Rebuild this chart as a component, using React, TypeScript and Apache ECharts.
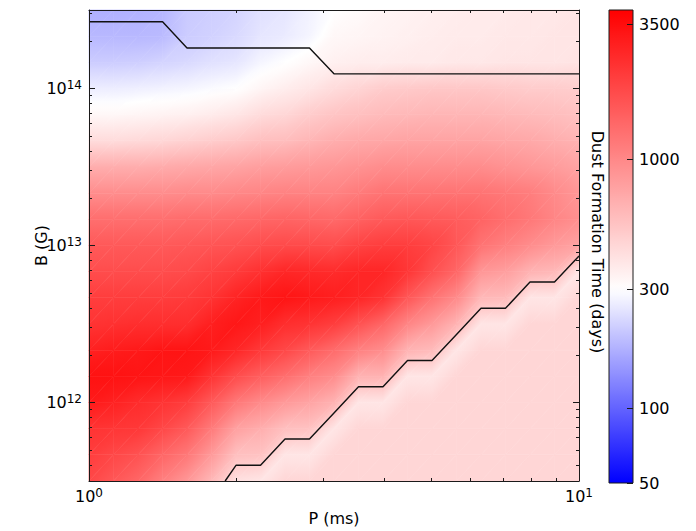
import React, { useEffect, useRef } from 'react';
import * as echarts from 'echarts';

// Grid of spin period P (ms) and magnetic field B (G)
const P_VALUES = [1.0, 1.122, 1.259, 1.413, 1.585, 1.778, 1.995, 2.239, 2.512, 2.818, 3.162, 3.548, 3.981, 4.467, 5.012, 5.623, 6.31, 7.079, 7.943, 8.913, 10.0];
const B_VALUES = [3.162e11, 4.642e11, 6.813e11, 1e12, 1.468e12, 2.154e12, 3.162e12, 4.642e12, 6.813e12, 1e13, 1.468e13, 2.154e13, 3.162e13, 4.642e13, 6.813e13, 1e14, 1.468e14, 2.154e14, 3.162e14];

// Dust formation time (days): one row per B value (bottom to top), one column per P value
const DUST_TIME_B0 = [1937, 1658, 1420, 1095, 868, 620, 409, 389, 454, 454, 454, 454, 454, 454, 454, 454, 454, 454, 454, 454, 454];
const DUST_TIME_B1 = [2148, 1937, 1746, 1420, 1184, 845, 573, 559, 389, 389, 454, 454, 454, 454, 454, 454, 454, 454, 454, 454, 454];
const DUST_TIME_B2 = [2383, 2322, 2263, 1937, 1616, 1154, 782, 687, 573, 559, 389, 454, 454, 454, 454, 454, 454, 454, 454, 454, 454];
const DUST_TIME_B3 = [3088, 2857, 2576, 2383, 2148, 1616, 1184, 988, 845, 762, 653, 389, 389, 454, 454, 454, 454, 454, 454, 454, 454];
const DUST_TIME_B4 = [3337, 3337, 3252, 3169, 3088, 2383, 1839, 1534, 1313, 1095, 962, 653, 653, 389, 389, 454, 454, 454, 454, 454, 454];
const DUST_TIME_B5 = [2857, 3009, 3088, 3252, 3252, 3088, 2712, 2263, 1937, 1616, 1348, 1095, 962, 653, 604, 389, 454, 454, 454, 454, 454];
const DUST_TIME_B6 = [2383, 2446, 2510, 2510, 2510, 2932, 3169, 2932, 2510, 2383, 2148, 1746, 1420, 1040, 845, 653, 389, 389, 454, 454, 454];
const DUST_TIME_B7 = [2148, 2148, 2148, 2148, 2205, 2383, 2784, 3088, 3252, 3088, 2932, 2712, 2383, 1658, 1247, 988, 620, 604, 389, 389, 454];
const DUST_TIME_B8 = [1839, 1839, 1839, 1839, 1887, 2040, 2205, 2446, 2712, 2643, 2576, 2712, 2712, 2322, 1792, 1420, 868, 803, 653, 620, 389];
const DUST_TIME_B9 = [1616, 1616, 1616, 1616, 1658, 1702, 1746, 1839, 1887, 1887, 1839, 2040, 2148, 2148, 1988, 1658, 1247, 1095, 962, 845, 762];
const DUST_TIME_B10 = [1313, 1313, 1313, 1313, 1348, 1348, 1383, 1420, 1457, 1420, 1383, 1495, 1616, 1658, 1616, 1574, 1457, 1313, 1184, 1040, 938];
const DUST_TIME_B11 = [962, 962, 962, 962, 988, 988, 1014, 1040, 1067, 1067, 1067, 1154, 1247, 1247, 1247, 1247, 1247, 1184, 1124, 988, 868];
const DUST_TIME_B12 = [687, 687, 687, 705, 724, 743, 762, 803, 824, 845, 868, 914, 962, 962, 962, 962, 962, 914, 868, 824, 762];
const DUST_TIME_B13 = [431, 431, 443, 454, 478, 504, 530, 573, 588, 636, 687, 724, 743, 762, 762, 762, 762, 743, 724, 687, 653];
const DUST_TIME_B14 = [324, 324, 333, 341, 350, 369, 389, 431, 454, 504, 544, 573, 604, 620, 636, 636, 636, 620, 604, 588, 559];
const DUST_TIME_B15 = [265, 265, 269, 274, 279, 290, 300, 333, 360, 389, 431, 466, 504, 517, 530, 530, 530, 517, 504, 504, 491];
const DUST_TIME_B16 = [210, 210, 213, 221, 229, 242, 251, 279, 300, 324, 350, 360, 360, 369, 369, 379, 379, 389, 389, 389, 399];
const DUST_TIME_B17 = [182, 182, 182, 185, 210, 217, 229, 251, 260, 279, 324, 333, 341, 350, 360, 369, 369, 379, 379, 389, 389];
const DUST_TIME_B18 = [172, 172, 175, 179, 206, 213, 221, 242, 251, 274, 300, 313, 333, 341, 350, 360, 369, 369, 379, 379, 389];

const DUST_TIME = [
  DUST_TIME_B0, DUST_TIME_B1, DUST_TIME_B2, DUST_TIME_B3, DUST_TIME_B4, DUST_TIME_B5, DUST_TIME_B6,
  DUST_TIME_B7, DUST_TIME_B8, DUST_TIME_B9, DUST_TIME_B10, DUST_TIME_B11, DUST_TIME_B12, DUST_TIME_B13,
  DUST_TIME_B14, DUST_TIME_B15, DUST_TIME_B16, DUST_TIME_B17, DUST_TIME_B18,
];

// Contour lines
const UPPER_CONTOUR_P = [1.0, 1.413, 1.585, 2.818, 3.162, 10.0];
const UPPER_CONTOUR_B = [2.66e14, 2.66e14, 1.81e14, 1.81e14, 1.24e14, 1.24e14];
const LOWER_CONTOUR_P = [1.896, 1.995, 2.239, 2.512, 2.818, 3.162, 3.548, 3.981, 4.467, 5.012, 5.623, 6.31, 7.079, 7.943, 8.913, 10.0];
const LOWER_CONTOUR_B = [3.162e11, 3.98e11, 3.98e11, 5.85e11, 5.85e11, 8.57e11, 1.26e12, 1.26e12, 1.85e12, 1.85e12, 2.71e12, 3.98e12, 3.98e12, 5.85e12, 5.85e12, 8.57e12];

// Axes
const X_RANGE = [1, 10];
const Y_RANGE = [3.162e11, 3.162e14];
const X_MAJOR_TICKS = [1, 10];
const X_MINOR_TICKS = [2, 3, 4, 5, 6, 7, 8, 9];
const Y_MAJOR_TICKS = [1e12, 1e13, 1e14];
const Y_MINOR_TICKS = [
  4e11, 5e11, 6e11, 7e11, 8e11, 9e11,
  2e12, 3e12, 4e12, 5e12, 6e12, 7e12, 8e12, 9e12,
  2e13, 3e13, 4e13, 5e13, 6e13, 7e13, 8e13, 9e13,
  2e14, 3e14,
];
const CBAR_TICKS = [50, 100, 300, 1000, 3500];
const CBAR_MIN = 50;
const CBAR_WHITE = 300;
const CBAR_MAX = 4000;

const FONT = 'DejaVu Sans';
const LINE = '#1a1a1a';

const L_MIN = Math.log10(CBAR_MIN);
const L_WHITE = Math.log10(CBAR_WHITE);
const L_MAX = Math.log10(CBAR_MAX);

function cmap(lv: number): string {
  if (lv >= L_WHITE) {
    const s = Math.max(0, Math.min(1, (lv - L_WHITE) / (L_MAX - L_WHITE)));
    const g = Math.round(255 * (1 - s));
    return `rgb(255,${g},${g})`;
  }
  const s = Math.max(0, Math.min(1, (L_WHITE - lv) / (L_WHITE - L_MIN)));
  const g = Math.round(255 * (1 - s));
  return `rgb(${g},${g},255)`;
}

type V = { x: number; y: number; f: number };

function triFill(a: V, b: V, c: V): any {
  const fmin = Math.min(a.f, b.f, c.f);
  const fmax = Math.max(a.f, b.f, c.f);
  if (fmax - fmin < 1e-6) return cmap(a.f);
  const e1x = b.x - a.x, e1y = b.y - a.y, e2x = c.x - a.x, e2y = c.y - a.y;
  const d1 = b.f - a.f, d2 = c.f - a.f;
  const det = e1x * e2y - e1y * e2x;
  if (Math.abs(det) < 1e-9) return cmap(a.f);
  const gx = (d1 * e2y - d2 * e1y) / det;
  const gy = (d2 * e1x - d1 * e2x) / det;
  const g2 = gx * gx + gy * gy;
  if (g2 < 1e-14) return cmap(a.f);
  const sx = a.x + (gx * (fmin - a.f)) / g2;
  const sy = a.y + (gy * (fmin - a.f)) / g2;
  const ex = a.x + (gx * (fmax - a.f)) / g2;
  const ey = a.y + (gy * (fmax - a.f)) / g2;
  const stops = [];
  const N = 4;
  for (let i = 0; i <= N; i++) {
    const t = i / N;
    stops.push({ offset: t, color: cmap(fmin + t * (fmax - fmin)) });
  }
  return new echarts.graphic.LinearGradient(sx, sy, ex, ey, stops, true);
}

const cells: number[][] = [];
for (let k = 0; k < B_VALUES.length - 1; k++) {
  for (let j = 0; j < P_VALUES.length - 1; j++) cells.push([j, k]);
}

const rich = {
  b: { fontSize: 16, fontFamily: FONT, color: '#000' },
  s: { fontSize: 12, fontFamily: FONT, color: '#000', padding: [0, 0, 7, 0] },
};

function xAxisDef(position: 'top' | 'bottom', major: boolean, labels: boolean) {
  const ticks = (major ? X_MAJOR_TICKS : X_MINOR_TICKS).map(Math.log10);
  const def: any = {
    gridIndex: 0,
    type: 'value',
    min: Math.log10(X_RANGE[0]),
    max: Math.log10(X_RANGE[1]),
    position,
    z: 10,
    axisLine: { show: major, onZero: false, lineStyle: { color: LINE, width: 1 } },
    axisTick: { show: true, inside: true, length: major ? 6 : 3, customValues: ticks, lineStyle: { color: LINE, width: 1 } },
    axisLabel: labels
      ? { show: true, customValues: X_MAJOR_TICKS.map(Math.log10), margin: 6, formatter: (v: number) => `{b|10}{s|${Math.round(v)}}`, rich }
      : { show: false },
    splitLine: { show: false },
  };
  if (labels) {
    def.name = 'P (ms)';
    def.nameLocation = 'middle';
    def.nameGap = 29;
    def.nameMoveOverlap = false;
    def.nameTextStyle = { fontSize: 16, fontFamily: FONT, color: '#000' };
  }
  return def;
}

function yAxisDef(position: 'left' | 'right', major: boolean, labels: boolean) {
  const ticks = (major ? Y_MAJOR_TICKS : Y_MINOR_TICKS).map(Math.log10);
  const def: any = {
    gridIndex: 0,
    type: 'value',
    min: Math.log10(Y_RANGE[0]),
    max: Math.log10(Y_RANGE[1]),
    position,
    z: 10,
    axisLine: { show: major, onZero: false, lineStyle: { color: LINE, width: 1 } },
    axisTick: { show: true, inside: true, length: major ? 6 : 3, customValues: ticks, lineStyle: { color: LINE, width: 1 } },
    axisLabel: labels
      ? { show: true, customValues: Y_MAJOR_TICKS.map(Math.log10), margin: 7, formatter: (v: number) => `{b|10}{s|${Math.round(v)}}`, rich }
      : { show: false },
    splitLine: { show: false },
  };
  if (labels) {
    def.name = 'B (G)';
    def.nameLocation = 'middle';
    def.nameRotate = 90;
    def.nameGap = 40;
    def.nameMoveOverlap = false;
    def.nameTextStyle = { fontSize: 16, fontFamily: FONT, color: '#000' };
  }
  return def;
}

function buildOption(): any {
  const toXY = (ps: number[], bs: number[]) => ps.map((p, i) => [Math.log10(p), Math.log10(bs[i])]);

  const cbarStops = [];
  const NS = 60;
  for (let i = 0; i <= NS; i++) {
    const t = i / NS;
    cbarStops.push({ offset: t, color: cmap(L_MAX - t * (L_MAX - L_MIN)) });
  }

  return {
    animation: false,
    backgroundColor: '#ffffff',
    textStyle: { fontFamily: FONT },
    grid: [
      { left: 89, top: 10, width: 490, height: 474 },
      { left: 609, top: 10, width: 24, height: 473 },
    ],
    xAxis: [
      xAxisDef('bottom', true, true),
      xAxisDef('bottom', false, false),
      xAxisDef('top', true, false),
      xAxisDef('top', false, false),
      { gridIndex: 1, type: 'value', min: 0, max: 1, show: false },
    ],
    yAxis: [
      yAxisDef('left', true, true),
      yAxisDef('left', false, false),
      yAxisDef('right', true, false),
      yAxisDef('right', false, false),
      {
        gridIndex: 1,
        type: 'value',
        min: L_MIN,
        max: L_MAX,
        position: 'right',
        z: 10,
        axisLine: { show: false, onZero: false },
        axisTick: { show: true, inside: true, length: 6, customValues: CBAR_TICKS.map(Math.log10), lineStyle: { color: LINE, width: 1 } },
        axisLabel: {
          show: true,
          customValues: CBAR_TICKS.map(Math.log10),
          margin: 6,
          fontSize: 16,
          fontFamily: FONT,
          color: '#000',
          formatter: (v: number) => String(Math.round(Math.pow(10, v))),
        },
        splitLine: { show: false },
      },
    ],
    series: [
      {
        type: 'custom',
        xAxisIndex: 0,
        yAxisIndex: 0,
        silent: true,
        z: 1,
        data: cells,
        renderItem: (_params: any, api: any) => {
          const j = api.value(0) as number;
          const k = api.value(1) as number;
          const pt = (a: number, b: number): V => {
            const c = api.coord([Math.log10(P_VALUES[a]), Math.log10(B_VALUES[b])]);
            return { x: c[0], y: c[1], f: Math.log10(DUST_TIME[b][a]) };
          };
          const c0 = pt(j, k), c1 = pt(j + 1, k), c2 = pt(j + 1, k + 1), c3 = pt(j, k + 1);
          const tris = [
            [c0, c1, c2],
            [c0, c2, c3],
          ];
          return {
            type: 'group',
            children: tris.map((t) => {
              const fill = triFill(t[0], t[1], t[2]);
              return {
                type: 'polygon',
                shape: { points: t.map((p) => [p.x, p.y]) },
                style: { fill, stroke: fill, lineWidth: 0.6 },
                silent: true,
              };
            }),
          };
        },
      },
      {
        type: 'line',
        xAxisIndex: 0,
        yAxisIndex: 0,
        z: 4,
        silent: true,
        symbol: 'none',
        showSymbol: false,
        clip: true,
        lineStyle: { color: '#111', width: 1.4 },
        data: toXY(UPPER_CONTOUR_P, UPPER_CONTOUR_B),
      },
      {
        type: 'line',
        xAxisIndex: 0,
        yAxisIndex: 0,
        z: 4,
        silent: true,
        symbol: 'none',
        showSymbol: false,
        clip: true,
        lineStyle: { color: '#111', width: 1.4 },
        data: toXY(LOWER_CONTOUR_P, LOWER_CONTOUR_B),
      },
      {
        type: 'custom',
        xAxisIndex: 4,
        yAxisIndex: 4,
        silent: true,
        z: 1,
        data: [[0, L_MIN]],
        renderItem: (_params: any, api: any) => {
          const tl = api.coord([0, L_MAX]);
          const br = api.coord([1, L_MIN]);
          return {
            type: 'rect',
            shape: { x: tl[0], y: tl[1], width: br[0] - tl[0], height: br[1] - tl[1] },
            style: {
              fill: new echarts.graphic.LinearGradient(0, 0, 0, 1, cbarStops),
              stroke: LINE,
              lineWidth: 1,
            },
          };
        },
      },
    ],
    graphic: [
      {
        type: 'text',
        x: 597,
        y: 242,
        rotation: -Math.PI / 2,
        style: {
          text: 'Dust Formation Time (days)',
          fontSize: 16,
          fontFamily: FONT,
          fill: '#000',
          align: 'center',
          verticalAlign: 'middle',
        },
      },
    ],
  };
}

export default function App() {
  const ref = useRef<HTMLDivElement>(null);
  useEffect(() => {
    if (!ref.current) return;
    const chart = echarts.init(ref.current, null, { renderer: 'svg' });
    chart.setOption(buildOption());
    return () => chart.dispose();
  }, []);
  return (
    <div
      ref={ref}
      style={{ position: 'fixed', left: 0, top: 0, width: 696, height: 531, background: '#fff' }}
    />
  );
}
